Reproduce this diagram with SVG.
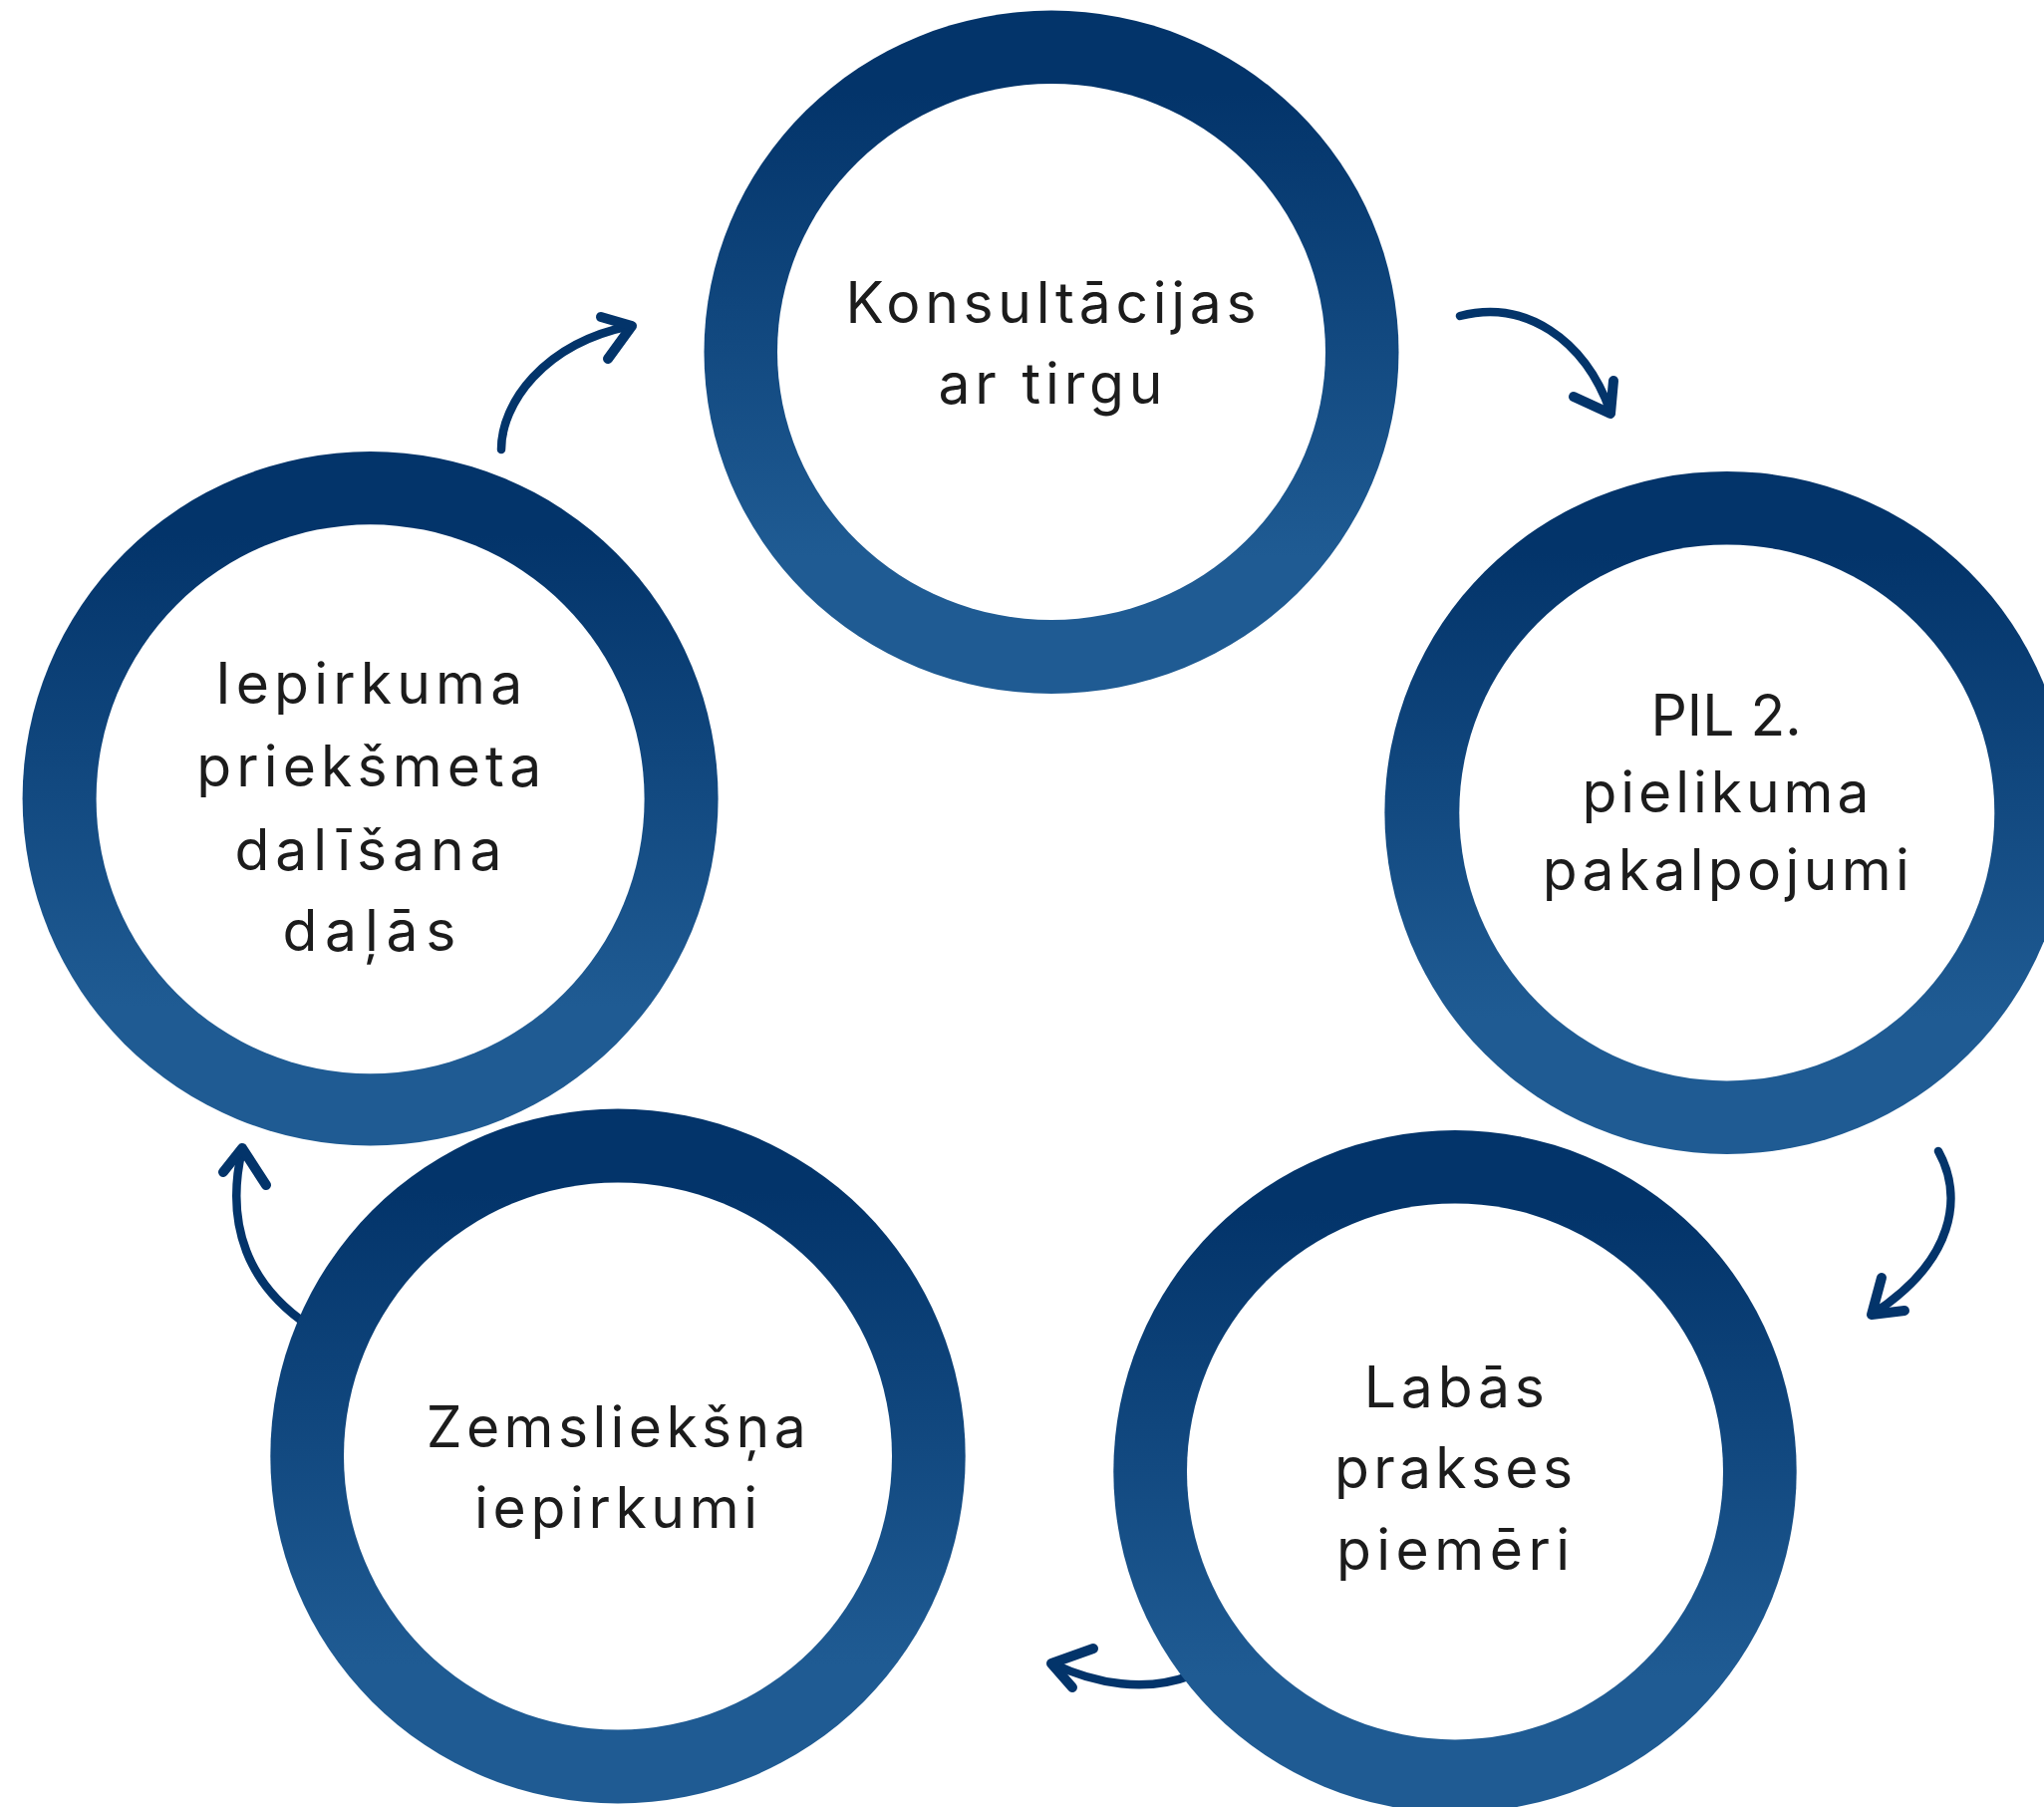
<svg xmlns="http://www.w3.org/2000/svg" width="2051" height="1813" viewBox="0 0 2051 1813">
<defs>
<linearGradient id="ringGrad" x1="0" y1="0" x2="0" y2="1">
<stop offset="0.12" stop-color="#03346a"/>
<stop offset="0.8" stop-color="#1f5b93"/>
</linearGradient>
<style>
.ring{fill:url(#ringGrad);}
.hole{fill:#ffffff;}
.lbl{font-family:Inter,"Open Sans","Liberation Sans",sans-serif;font-size:57px;fill:#1c1c1c;text-anchor:middle;}
.shaft{fill:none;stroke:#03346a;stroke-width:8.5;stroke-linecap:round;stroke-linejoin:round;}
.head{fill:none;stroke:#03346a;stroke-width:10;stroke-linecap:round;stroke-linejoin:round;}
</style>
</defs>
<rect width="2051" height="1813" fill="#ffffff"/>
<g id="connectors">
<g id="arrow-iepirkuma-konsultacijas">
<path class="shaft" d="M503 451 C503 405 545 345 632 327"/>
<path class="head" d="M603 318 L634 327 L610 360"/>
</g>
<g id="arrow-konsultacijas-pil">
<path class="shaft" d="M1465 317 C1530 300 1590 340 1616 413"/>
<path class="head" d="M1579 398 L1616 415 L1619 382"/>
</g>
<g id="arrow-pil-labas">
<path class="shaft" d="M1945 1155 C1970 1200 1962 1265 1878 1319"/>
<path class="head" d="M1888 1282 L1878 1319 L1911 1315"/>
</g>
<g id="arrow-labas-zemslieksna">
<path class="shaft" d="M1195 1681 C1150 1698 1100 1690 1056 1669"/>
<path class="head" d="M1097 1654 L1055 1669 L1076 1693"/>
</g>
<g id="arrow-zemslieksna-iepirkuma">
<path class="shaft" d="M310 1330 C250 1290 225 1230 243 1153"/>
<path class="head" d="M224 1176 L243 1152 L267 1189"/>
</g>
</g>
<g id="node-konsultacijas">
<ellipse class="ring" cx="1055" cy="353.3" rx="348.5" ry="342.7"/>
<ellipse class="hole" cx="1055" cy="353" rx="275" ry="269"/>
<text class="lbl" x="1054.5" y="324" textLength="412" lengthAdjust="spacing">Konsultācijas</text>
<text class="lbl" x="1054" y="405" textLength="225" lengthAdjust="spacing">ar tirgu</text>
</g>
<g id="node-pil">
<ellipse class="ring" cx="1732.8" cy="815.4" rx="343.4" ry="342.5"/>
<ellipse class="hole" cx="1732.8" cy="815.4" rx="268.5" ry="269"/>
<text class="lbl" x="1732" y="738">PIL 2.</text>
<text class="lbl" x="1731.5" y="815" textLength="288" lengthAdjust="spacing">pielikuma</text>
<text class="lbl" x="1731.7" y="892.5" textLength="368" lengthAdjust="spacing">pakalpojumi</text>
</g>
<g id="node-labas">
<ellipse class="ring" cx="1460" cy="1476.4" rx="342.7" ry="342.3"/>
<ellipse class="hole" cx="1460" cy="1476.4" rx="269" ry="269"/>
<text class="lbl" x="1459.3" y="1411.6" textLength="181" lengthAdjust="spacing">Labās</text>
<text class="lbl" x="1458.5" y="1493.4" textLength="239" lengthAdjust="spacing">prakses</text>
<text class="lbl" x="1458" y="1575.2" textLength="234" lengthAdjust="spacing">piemēri</text>
</g>
<g id="node-zemslieksna">
<ellipse class="ring" cx="620" cy="1461" rx="348.7" ry="348.5"/>
<ellipse class="hole" cx="620" cy="1461" rx="275" ry="274.6"/>
<text class="lbl" x="618.2" y="1451.5" textLength="381" lengthAdjust="spacing">Zemsliekšņa</text>
<text class="lbl" x="618.1" y="1533.4" textLength="284" lengthAdjust="spacing">iepirkumi</text>
</g>
<g id="node-iepirkuma">
<ellipse class="ring" cx="371.6" cy="801.2" rx="349" ry="348.2"/>
<ellipse class="hole" cx="371.6" cy="801.8" rx="275" ry="275.5"/>
<text class="lbl" x="370.2" y="706.3" textLength="308" lengthAdjust="spacing">Iepirkuma</text>
<text class="lbl" x="370.2" y="789" textLength="346" lengthAdjust="spacing">priekšmeta</text>
<text class="lbl" x="369.5" y="873" textLength="268" lengthAdjust="spacing">dalīšana</text>
<text class="lbl" x="370.4" y="954.2" textLength="174" lengthAdjust="spacing">daļās</text>
</g>
</svg>
